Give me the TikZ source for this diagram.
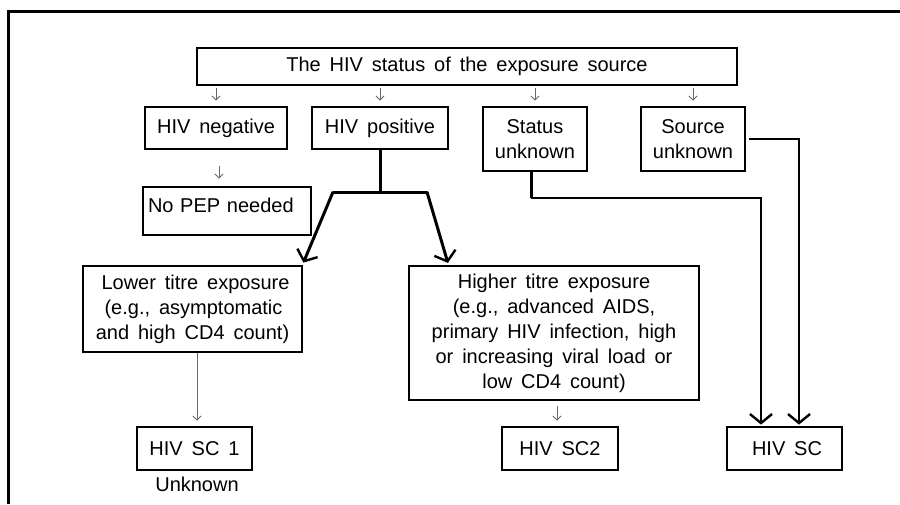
\documentclass[tikz,border=0pt]{standalone}
\usepackage{fontspec}
\setmainfont{Liberation Sans}[WordSpace=1.6]
\usetikzlibrary{arrows.meta}
\newcommand\fsz{\fontsize{20}{25}\selectfont}
\begin{document}
\begin{tikzpicture}[x=1pt,y=-1pt,
  box/.style={draw, line width=2.8pt, inner sep=0pt, font=\fsz, align=center},
  smallarr/.style={draw=black!60, line width=0.9pt, -{Straight Barb[length=4pt,width=8pt]}},
  bigarr/.style={line width=3pt, -{Straight Barb[length=9pt,width=22pt,line width=2.4pt]}},
  midarr/.style={line width=1.8pt, -{Straight Barb[length=9pt,width=22pt,line width=2.4pt]}}]
\useasboundingbox (0,0) rectangle (900,504);
\fill[white] (0,0) rectangle (900,504);
% frame
\draw[line width=3pt] (8,504) -- (8,11) -- (900,11);
% boxes
\node[box, line width=2.4pt, minimum width=540, minimum height=37] (top) at (467,66.5) {The HIV status of the exposure source};
\node[box, minimum width=142, minimum height=42] (neg) at (216,128) {HIV negative};
\node[box, minimum width=136, minimum height=42] (pos) at (380,128) {HIV positive};
\node[box, minimum width=104, minimum height=64] (stat) at (535,139) {Status\\unknown};
\node[box, minimum width=104, minimum height=64] (src) at (693,139) {Source\\unknown};
\node[box, minimum width=168, inner xsep=5pt, inner ysep=4pt, text height=21pt, text depth=19pt, align=left, text width=158pt] (nopep) at (227,211) {No PEP needed};
\node[box, minimum width=219, minimum height=86] (lower) at (192.5,309) {\hspace*{6pt}Lower titre exposure\\ \hspace*{2pt}(e.g., asymptomatic\\ and high CD4 count)};
\node[box, line width=2.2pt, minimum width=290, minimum height=134] (higher) at (554,333) {Higher titre exposure\\(e.g., advanced AIDS,\\primary HIV infection, high\\or increasing viral load or\\low CD4 count)};
\node[box, minimum width=115, minimum height=43] (sc1) at (194.5,448.5) {HIV SC 1};
\node[font=\fsz] (unk) at (197,484) {Unknown};
\node[box, minimum width=116, minimum height=43] (sc2) at (560,448.5) {HIV SC2};
\node[box, minimum width=115, minimum height=43] (sc) at (784.5,448.5) {\hspace*{5pt}HIV SC};
% small arrows from top
\foreach \n in {neg,pos,stat,src}
  \draw[smallarr] ([yshift=-2pt]\n.north |- top.south) -- ([yshift=5pt]\n.north);
\draw[smallarr] ([yshift=-16pt,xshift=3pt]neg.south) -- ([yshift=7pt,xshift=3pt]neg.south |- nopep.north);
\draw[smallarr] ([yshift=-5pt,xshift=3pt]higher.south) -- ([yshift=5pt,xshift=3pt]higher.south |- sc2.north);
\draw[smallarr] ([xshift=4.5pt]lower.south) -- ([yshift=5pt,xshift=4.5pt]lower.south |- sc1.north);
% HIV positive branches
\coordinate (split) at (pos.south |- 0,192);
\coordinate (sl) at (333,192);
\coordinate (sr) at (427,192);
\draw[line width=3pt] (pos.south) -- (split);
\draw[line width=3pt, line cap=round] (sl) -- (sr);
\draw[bigarr] (sl) -- ([yshift=2pt]lower.north east);
\draw[bigarr] (sr) -- ([xshift=40pt,yshift=2pt]higher.north west);
% status unknown
\coordinate (s1) at (531,198);
\draw[line width=3pt] ([xshift=-4pt]stat.south) -- (s1);
\draw[midarr] (s1) -| ([xshift=-23.5pt,yshift=1pt]sc.north);
% source unknown
\draw[midarr] ([xshift=3pt]src.east) -| ([xshift=14.5pt,yshift=1pt]sc.north);
\end{tikzpicture}
\end{document}
